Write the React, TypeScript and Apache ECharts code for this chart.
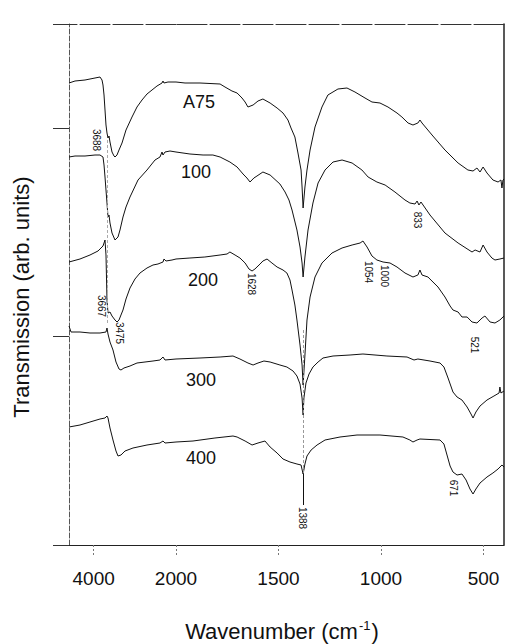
import React, { useEffect, useRef } from 'react';
import * as echarts from 'echarts';

// [wavenumber (cm-1), transmission (arb. units)]
const A75: [number, number][] = [
  [4600, 46.2], [4454, 46.4], [4211, 46.5], [3968, 46.7], [3847, 46.8], [3798, 46.5], [3774, 46.0], [3749, 45.0],
  [3725, 43.5], [3701, 42.0], [3677, 41.2], [3652, 40.7], [3628, 40.9], [3604, 40.3], [3555, 39.3], [3506, 38.9],
  [3482, 38.8], [3434, 39.0], [3385, 39.5], [3312, 40.2], [3215, 41.5], [3069, 42.8], [2948, 43.8], [2826, 44.5],
  [2705, 45.1], [2583, 45.5], [2462, 45.9], [2340, 46.2], [2316, 46.4], [2292, 46.2], [2195, 46.3], [2097, 46.3],
  [2000, 46.3], [1956, 46.2], [1883, 46.2], [1785, 46.1], [1761, 45.8], [1727, 45.4], [1702, 45.2], [1678, 44.7],
  [1663, 44.3], [1649, 43.8], [1624, 44.0], [1600, 44.4], [1576, 44.6], [1541, 44.2], [1507, 43.7], [1478, 43.2],
  [1454, 42.5], [1439, 41.7], [1420, 40.8], [1405, 39.2], [1390, 37.5], [1385, 35.8], [1380, 33.7], [1371, 35.8],
  [1361, 37.5], [1346, 39.5], [1322, 41.8], [1288, 43.8], [1259, 45.0], [1210, 45.6], [1166, 45.7], [1127, 45.3],
  [1078, 44.7], [1044, 44.3], [1005, 44.2], [966, 43.8], [922, 43.2], [898, 42.8], [868, 42.2], [844, 42.0],
  [820, 42.2], [810, 42.5], [800, 42.2], [751, 41.0], [688, 39.5], [624, 38.2], [576, 37.5], [551, 37.4],
  [532, 37.7], [517, 37.3], [502, 37.8], [483, 37.2], [454, 36.5], [429, 36.3], [415, 36.5], [410, 35.7],
  [405, 36.5], [400, 36.6],
];

const S100: [number, number][] = [
  [4600, 38.8], [4454, 38.9], [4211, 38.9], [3968, 39.0], [3847, 39.0], [3774, 38.8], [3749, 38.0], [3725, 36.8],
  [3701, 35.5], [3677, 34.2], [3652, 32.8], [3628, 33.0], [3604, 32.2], [3555, 31.2], [3482, 30.5], [3409, 30.8],
  [3361, 31.5], [3288, 32.8], [3215, 33.8], [3118, 34.8], [2923, 36.5], [2705, 37.5], [2510, 38.5], [2389, 38.8],
  [2340, 39.3], [2316, 39.0], [2267, 39.3], [2146, 39.4], [2000, 39.3], [1932, 39.1], [1868, 39.0], [1820, 39.0],
  [1785, 38.8], [1737, 38.3], [1702, 37.8], [1673, 37.1], [1654, 36.7], [1639, 36.3], [1620, 36.7], [1605, 36.9],
  [1576, 37.3], [1541, 37.0], [1493, 36.1], [1468, 35.3], [1449, 34.5], [1434, 33.5], [1410, 31.5], [1395, 29.8],
  [1385, 28.2], [1380, 26.8], [1371, 28.8], [1356, 31.5], [1332, 34.2], [1307, 36.2], [1273, 37.5], [1234, 38.3],
  [1190, 38.5], [1141, 38.2], [1093, 37.5], [1063, 36.8], [1020, 36.3], [980, 36.0], [932, 35.3], [883, 34.5],
  [859, 34.2], [834, 34.1], [824, 34.4], [815, 34.0], [805, 34.3], [761, 33.0], [688, 31.2], [624, 30.2],
  [556, 29.3], [541, 29.5], [517, 29.3], [502, 30.0], [483, 29.3], [459, 28.7], [444, 28.5], [420, 28.6],
  [400, 28.7],
];

const S200: [number, number][] = [
  [4600, 28.3], [4333, 28.6], [4090, 29.0], [3895, 29.4], [3774, 29.9], [3725, 30.5], [3701, 29.0], [3677, 24.5],
  [3652, 23.2], [3604, 23.3], [3555, 22.9], [3482, 22.5], [3434, 22.3], [3385, 22.5], [3337, 23.0], [3288, 23.5],
  [3215, 24.6], [3118, 25.7], [2997, 26.6], [2875, 27.2], [2705, 27.7], [2559, 28.0], [2438, 28.1], [2316, 28.3],
  [2292, 28.6], [2243, 28.4], [2097, 28.5], [2000, 28.6], [1932, 28.7], [1859, 28.8], [1785, 29.0], [1751, 29.1],
  [1737, 29.3], [1712, 29.0], [1688, 28.7], [1663, 28.2], [1644, 27.6], [1629, 27.4], [1615, 27.6], [1590, 28.1],
  [1576, 28.4], [1556, 28.6], [1532, 28.2], [1507, 27.8], [1478, 27.5], [1459, 27.2], [1444, 26.5], [1434, 25.5],
  [1420, 24.0], [1410, 22.5], [1395, 20.0], [1385, 18.0], [1380, 16.0], [1371, 19.0], [1361, 22.5], [1346, 24.8],
  [1322, 26.8], [1288, 28.2], [1239, 29.2], [1190, 29.7], [1141, 30.0], [1102, 30.2], [1088, 30.4], [1068, 29.8],
  [1044, 28.9], [1020, 28.5], [990, 28.3], [956, 28.2], [922, 27.8], [883, 27.2], [844, 26.8], [820, 27.0],
  [810, 27.5], [800, 27.0], [771, 26.8], [722, 25.8], [688, 24.8], [663, 23.9], [649, 23.5], [624, 23.3],
  [605, 22.8], [580, 22.8], [556, 22.3], [532, 22.2], [507, 22.7], [493, 22.9], [468, 22.3], [444, 22.2],
  [420, 22.5], [400, 22.9],
];

const S300: [number, number][] = [
  [4600, 21.9], [4551, 21.3], [4333, 21.3], [4090, 21.2], [3847, 21.2], [3701, 21.3], [3677, 21.7], [3652, 21.1],
  [3604, 20.3], [3531, 19.5], [3458, 18.3], [3385, 17.6], [3337, 17.5], [3264, 17.7], [3118, 17.9], [2948, 18.2],
  [2753, 18.3], [2559, 18.4], [2389, 18.5], [2316, 18.8], [2267, 18.5], [2000, 18.6], [1883, 18.7], [1785, 18.8],
  [1722, 18.9], [1688, 18.6], [1649, 18.2], [1624, 18.0], [1600, 18.2], [1571, 18.4], [1541, 18.3], [1493, 18.0],
  [1459, 17.8], [1429, 17.4], [1410, 16.9], [1395, 16.1], [1385, 14.7], [1380, 13.0], [1376, 14.7], [1366, 16.2],
  [1351, 17.1], [1332, 17.8], [1307, 18.3], [1283, 18.7], [1234, 18.9], [1151, 19.0], [1088, 19.1], [971, 18.9],
  [873, 18.8], [839, 18.5], [820, 18.6], [761, 18.4], [712, 18.2], [693, 17.8], [673, 16.7], [649, 15.3],
  [629, 14.8], [605, 14.5], [580, 13.8], [561, 13.1], [551, 12.7], [537, 13.3], [517, 13.9], [483, 14.5],
  [449, 14.9], [424, 15.2], [420, 15.8], [415, 15.2], [400, 15.4],
];

const S400: [number, number][] = [
  [4600, 11.8], [4333, 12.0], [4090, 12.3], [3847, 12.6], [3725, 12.7], [3677, 12.9], [3652, 12.7], [3604, 11.7],
  [3531, 10.5], [3458, 9.4], [3409, 8.9], [3337, 9.0], [3239, 9.4], [3045, 9.7], [2705, 10.0], [2389, 10.2],
  [2316, 10.4], [2267, 10.2], [2000, 10.3], [1917, 10.4], [1810, 10.7], [1722, 10.9], [1702, 10.8], [1663, 10.4],
  [1629, 10.0], [1600, 10.2], [1566, 10.4], [1541, 9.8], [1507, 9.2], [1478, 8.6], [1444, 8.3], [1410, 8.1],
  [1390, 8.0], [1380, 7.1], [1371, 8.1], [1361, 8.9], [1341, 9.5], [1312, 10.0], [1273, 10.5], [1200, 10.8],
  [1117, 11.0], [1005, 11.0], [893, 10.8], [859, 10.5], [844, 10.3], [824, 10.5], [810, 10.6], [712, 10.5],
  [693, 10.1], [678, 9.0], [663, 7.9], [649, 7.3], [629, 7.0], [605, 7.1], [585, 6.5], [566, 5.6],
  [551, 5.1], [537, 5.6], [517, 6.2], [483, 6.8], [454, 7.2], [429, 7.6], [410, 8.0], [400, 7.8],
];

const SAMPLE_NAMES = ['A75', '100', '200', '300', '400'];
const SPECTRA = [A75, S100, S200, S300, S400];
const PEAK_LABELS = ['3688', '3667', '3475', '1628', '1054', '1000', '833', '521', '671', '1388'];
const X_TICKS_LEFT = [4000];
const X_TICKS_RIGHT = [2000, 1500, 1000, 500];
const Y_TICKS = [0, 20.84, 41.68, 52.1];

const FONT = '"Liberation Sans", Arial, Helvetica, sans-serif';
const INK = '#111';

export default function App() {
  const ref = useRef<HTMLDivElement>(null);
  useEffect(() => {
    document.body.style.margin = '0';
    const chart = echarts.init(ref.current!, null, { renderer: 'svg' });

    const series: any[] = [];
    SPECTRA.forEach((d, i) => {
      series.push({
        name: SAMPLE_NAMES[i] + ' high',
        type: 'line',
        xAxisIndex: 0,
        yAxisIndex: 0,
        data: d.filter((p) => p[0] >= 2000),
        showSymbol: false,
        lineStyle: { color: INK, width: 1 },
        silent: true,
      });
      series.push({
        name: SAMPLE_NAMES[i] + ' low',
        type: 'line',
        xAxisIndex: 1,
        yAxisIndex: 1,
        data: d.filter((p) => p[0] <= 2000),
        showSymbol: false,
        lineStyle: { color: INK, width: 1 },
        silent: true,
      });
    });
    // guide lines
    series[1].markLine = {
      symbol: 'none',
      silent: true,
      label: { show: false },
      data: [
        [{ coord: [1380, 21.5], lineStyle: { color: '#999', type: [3, 2], width: 1 } }, { coord: [1380, 7.1] }],
        [{ coord: [1380, 7.1], lineStyle: { color: INK, type: 'solid', width: 1 } }, { coord: [1380, 4.0] }],
      ],
    };
    series[0].markLine = {
      symbol: 'none',
      silent: true,
      label: { show: false },
      data: [
        [{ coord: [3677, 40.5], lineStyle: { color: '#aaa', type: [3, 2], width: 1 } }, { coord: [3677, 22.0] }],
      ],
    };

    const peakPos = [
      [96, 140], [101, 306], [119, 333], [251, 284], [368, 272], [384, 276], [417, 220], [474, 345], [453, 488], [302, 518],
    ];
    const namePos = [[199, 102], [196, 172], [203, 280], [201, 380], [201, 458]];

    const graphic: any[] = [];
    SAMPLE_NAMES.forEach((n, i) => {
      graphic.push({
        type: 'text', x: namePos[i][0], y: namePos[i][1], silent: true,
        style: { text: n, font: `18px ${FONT}`, fill: INK, align: 'center', verticalAlign: 'middle' },
      });
    });
    PEAK_LABELS.forEach((n, i) => {
      graphic.push({
        type: 'text', x: peakPos[i][0], y: peakPos[i][1], rotation: -Math.PI / 2, silent: true,
        style: { text: n, font: `10px ${FONT}`, fill: INK, align: 'center', verticalAlign: 'middle' },
      });
    });
    graphic.push({
      type: 'text', x: 21, y: 297, rotation: Math.PI / 2, silent: true,
      style: { text: 'Transmission (arb. units)', font: `22px ${FONT}`, fill: INK, align: 'center', verticalAlign: 'middle' },
    });
    graphic.push({
      type: 'text', x: 282, y: 631, silent: true,
      style: {
        text: '{a|Wavenumber (cm}{s|-1}{a|)}',
        align: 'center', verticalAlign: 'middle', fill: INK,
        rich: {
          a: { font: `22px ${FONT}`, fill: INK, lineHeight: 24 },
          s: { font: `13px ${FONT}`, fill: INK, verticalAlign: 'top', lineHeight: 24, padding: [0, 1, 10, 1] },
        },
      },
    });

    const commonX = {
      type: 'value',
      inverse: true,
      splitLine: { show: false },
    };
    const fmt = (v: number) => String(v);

    chart.setOption({
      animation: false,
      backgroundColor: '#fff',
      grid: [
        { left: 69, top: 24, width: 107, height: 521, containLabel: false, outerBoundsMode: 'none' },
        { left: 176, top: 24, width: 328, height: 521, containLabel: false, outerBoundsMode: 'none' },
      ],
      xAxis: [
        {
          ...commonX, gridIndex: 0, position: 'bottom', min: 2000, max: 4600,
          axisLine: { show: true, lineStyle: { color: '#222', width: 1 } },
          axisTick: { show: true, customValues: X_TICKS_LEFT, length: 10, lineStyle: { color: '#777', type: [2, 2] } },
          axisLabel: { show: true, customValues: X_TICKS_LEFT, formatter: fmt, fontSize: 19, fontFamily: FONT, color: INK, margin: 24 },
        },
        {
          ...commonX, gridIndex: 1, position: 'bottom', min: 400, max: 2000,
          axisLine: { show: true, lineStyle: { color: '#222', width: 1 } },
          axisTick: { show: true, customValues: X_TICKS_RIGHT, length: 10, lineStyle: { color: '#777', type: [2, 2] } },
          axisLabel: { show: true, customValues: X_TICKS_RIGHT, formatter: fmt, fontSize: 19, fontFamily: FONT, color: INK, margin: 24 },
        },
        {
          ...commonX, gridIndex: 0, position: 'top', min: 2000, max: 4600,
          axisLine: { show: true, lineStyle: { color: '#333', width: 1, type: [30, 3] } },
          axisTick: { show: false }, axisLabel: { show: false },
        },
        {
          ...commonX, gridIndex: 1, position: 'top', min: 400, max: 2000,
          axisLine: { show: true, lineStyle: { color: '#333', width: 1, type: [30, 3] } },
          axisTick: { show: false }, axisLabel: { show: false },
        },
      ],
      yAxis: [
        {
          type: 'value', gridIndex: 0, position: 'left', min: 0, max: 52.1,
          splitLine: { show: false },
          axisLine: { show: true, lineStyle: { color: '#555', width: 1, type: [5, 2] } },
          axisTick: { show: true, customValues: Y_TICKS, length: 16, lineStyle: { color: '#333', width: 1 } },
          axisLabel: { show: false },
        },
        {
          type: 'value', gridIndex: 1, position: 'right', min: 0, max: 52.1,
          splitLine: { show: false },
          axisLine: { show: true, lineStyle: { color: '#222', width: 1.5 } },
          axisTick: { show: false },
          axisLabel: { show: false },
        },
      ],
      series,
      graphic,
    });
    return () => chart.dispose();
  }, []);
  return <div ref={ref} style={{ width: 506, height: 644 }} />;
}
